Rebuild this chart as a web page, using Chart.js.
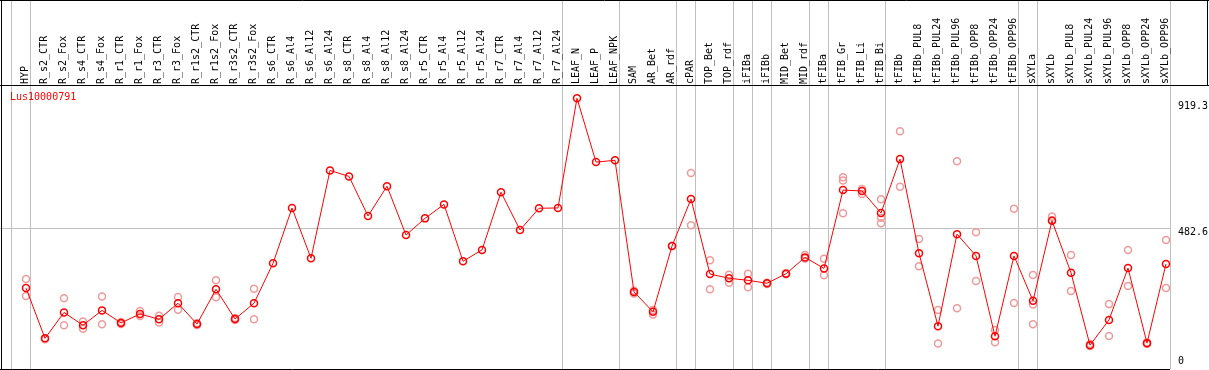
<!DOCTYPE html>
<html>
<head>
<meta charset="utf-8">
<script src="https://cdn.jsdelivr.net/npm/chart.js@4/dist/chart.umd.min.js"></script>
<style>
  body { margin: 0; background: #fff; }
  canvas { display: block; }
</style>
</head>
<body>
<canvas id="chart" width="1209" height="370"></canvas>
<script>
const geneName = "Lus10000791";

const categories = [
  "HYP", "R_s2_CTR", "R_s2_Fox", "R_s4_CTR", "R_s4_Fox", "R_r1_CTR", "R_r1_Fox",
  "R_r3_CTR", "R_r3_Fox", "R_r1s2_CTR", "R_r1s2_Fox", "R_r3s2_CTR", "R_r3s2_Fox",
  "R_s6_CTR", "R_s6_Al4", "R_s6_Al12", "R_s6_Al24", "R_s8_CTR", "R_s8_Al4",
  "R_s8_Al12", "R_s8_Al24", "R_r5_CTR", "R_r5_Al4", "R_r5_Al12", "R_r5_Al24",
  "R_r7_CTR", "R_r7_Al4", "R_r7_Al12", "R_r7_Al24", "LEAF_N", "LEAF_P", "LEAF_NPK",
  "SAM", "AR_Bet", "AR_rdf", "cPAR", "TOP_Bet", "TOP_rdf", "iFIBa", "iFIBb",
  "MID_Bet", "MID_rdf", "tFIBa", "tFIB_Gr", "tFIB_Li", "tFIB_Bi", "tFIBb",
  "tFIBb_PUL8", "tFIBb_PUL24", "tFIBb_PUL96", "tFIBb_OPP8", "tFIBb_OPP24", "tFIBb_OPP96",
  "sXYLa", "sXYLb", "sXYLb_PUL8", "sXYLb_PUL24", "sXYLb_PUL96", "sXYLb_OPP8",
  "sXYLb_OPP24", "sXYLb_OPP96"
];

// index of the last category in each group (-1 = line before the first one)
const groupEnds = [-1, 0, 28, 31, 34, 35, 37, 38, 39, 41, 42, 45, 52, 53, 60];

// mean expression
const meanValues = [
  282, 113, 200, 157, 207, 165, 195, 177, 231, 161, 278, 178, 231,
  365, 551, 382, 677, 657, 524, 624, 460, 516, 563, 372, 410, 604, 477, 550, 551,
  919.3, 705, 711,
  269, 202, 423, 581, 329, 315, 308, 298, 330, 385, 348, 611, 608, 534, 715,
  399, 154, 463, 390, 120, 390,
  239, 508, 333, 90, 175, 349, 97, 363
];

// replicates
const repA = [
  312, 110, 248, 170, 254, 168, 205, 189, 252, 164, 308, 181, 280,
  null, null, null, null, null, null, null, null, null, null, null, null, null, null, null, null,
  null, null, null,
  264, 193, 423, 668, 375, 327, 330, 296, 332, 393, 380, 654, 598, 580, 809,
  447, 208, 708, 469, 141, 548,
  326, 522, 393, 94, 228, 410, 99, 443
];
const repB = [
  255, null, 157, 145, 160, 161, 188, 166, 209, 158, 251, 175, 177,
  null, null, null, null, null, null, null, null, null, null, null, null, null, null, null, null,
  null, null, null,
  273, 208, null, 493, 278, 300, 285, 300, 328, 381, 325, 643, 615, 518, 622,
  355, 96, 214, 306, 100, 232,
  227, 510, 272, 87, 121, 289, 95, 282
];
const repC = [
  null, null, null, null, null, null, null, null, null, null, null, null, null,
  null, null, null, null, null, null, null, null, null, null, null, null, null, null, null, null,
  null, null, null,
  null, null, null, null, null, null, null, null, null, null, null, 533, null, 500, null,
  null, null, null, null, null, null,
  160, null, null, null, null, null, null, null
];

const yTicks = [0, 482.6, 919.3];

const toPoints = (arr) => arr.map((v, i) => ({ x: i, y: v }));

const font = "10px 'DejaVu Sans Mono'";

const repStyle = {
  showLine: false,
  borderColor: "#ee9a9a",
  backgroundColor: "rgba(0,0,0,0)",
  borderWidth: 1.5,
  pointRadius: 3.5,
  pointHoverRadius: 3.5,
};

const framePlugin = {
  id: "frame",
  beforeDatasetsDraw(chart) {
    const ctx = chart.ctx;
    const xs = chart.scales.x;
    const ys = chart.scales.y;
    const area = chart.chartArea;
    ctx.save();
    ctx.strokeStyle = "#c0c0c0";
    ctx.lineWidth = 1;
    // group separators
    groupEnds.forEach((g) => {
      const x = Math.round(xs.getPixelForValue(g + 0.23)) + 0.5;
      ctx.beginPath();
      ctx.moveTo(x, 0);
      ctx.lineTo(x, area.bottom);
      ctx.stroke();
    });
    // middle gridline
    const gy = Math.round(ys.getPixelForValue(yTicks[1])) + 0.5;
    ctx.beginPath();
    ctx.moveTo(0, gy);
    ctx.lineTo(area.right, gy);
    ctx.stroke();
    ctx.restore();
  },
  afterDraw(chart) {
    const ctx = chart.ctx;
    const xs = chart.scales.x;
    const ys = chart.scales.y;
    const area = chart.chartArea;
    const w = chart.width;
    ctx.save();
    ctx.strokeStyle = "#000";
    ctx.lineWidth = 1;
    ctx.beginPath();
    ctx.moveTo(0, 0.5); ctx.lineTo(w, 0.5);
    ctx.moveTo(0, 85.5); ctx.lineTo(w, 85.5);
    ctx.moveTo(1.5, 0); ctx.lineTo(1.5, area.bottom + 1);
    ctx.moveTo(0, area.bottom + 0.5); ctx.lineTo(area.right, area.bottom + 0.5);
    ctx.moveTo(w - 1.5, 0); ctx.lineTo(w - 1.5, 86);
    ctx.stroke();

    ctx.font = font;
    ctx.fillStyle = "#000";
    // category labels
    ctx.textAlign = "left";
    ctx.textBaseline = "middle";
    categories.forEach((c, i) => {
      ctx.save();
      ctx.translate(xs.getPixelForValue(i) - 0.5, 84);
      ctx.rotate(-Math.PI / 2);
      ctx.fillText(c, 0, 0);
      ctx.restore();
    });

    // value labels on the right
    const lx = area.right + 8;
    ctx.fillText(String(yTicks[2]), lx, ys.getPixelForValue(yTicks[2]) + 8.5);
    ctx.fillText(String(yTicks[1]), lx, ys.getPixelForValue(yTicks[1]) + 4.5);
    ctx.fillText(String(yTicks[0]), lx, area.bottom - 7.5);

    ctx.fillStyle = "#ff0000";
    ctx.fillText(geneName, 10, 97);
    ctx.restore();
  },
};

new Chart(document.getElementById("chart"), {
  type: "line",
  data: {
    datasets: [
      {
        label: geneName,
        data: toPoints(meanValues),
        borderColor: "#ff0000",
        backgroundColor: "rgba(0,0,0,0)",
        borderWidth: 1,
        pointBorderWidth: 1.5,
        pointRadius: 3.5,
        pointHoverRadius: 3.5,
        tension: 0,
      },
      { label: "rep1", data: toPoints(repA), ...repStyle },
      { label: "rep2", data: toPoints(repB), ...repStyle },
      { label: "rep3", data: toPoints(repC), ...repStyle },
    ],
  },
  options: {
    responsive: false,
    animation: false,
    devicePixelRatio: 1,
    layout: { autoPadding: false, padding: { left: 1, right: 39, top: 86, bottom: 1 } },
    scales: {
      x: { type: "linear", min: -1.316, max: 60.21, display: false },
      y: { min: 10.1, max: 960.6, display: false },
    },
    plugins: {
      legend: { display: false },
      tooltip: { enabled: false },
    },
    clip: false,
  },
  plugins: [framePlugin],
});
</script>
</body>
</html>
